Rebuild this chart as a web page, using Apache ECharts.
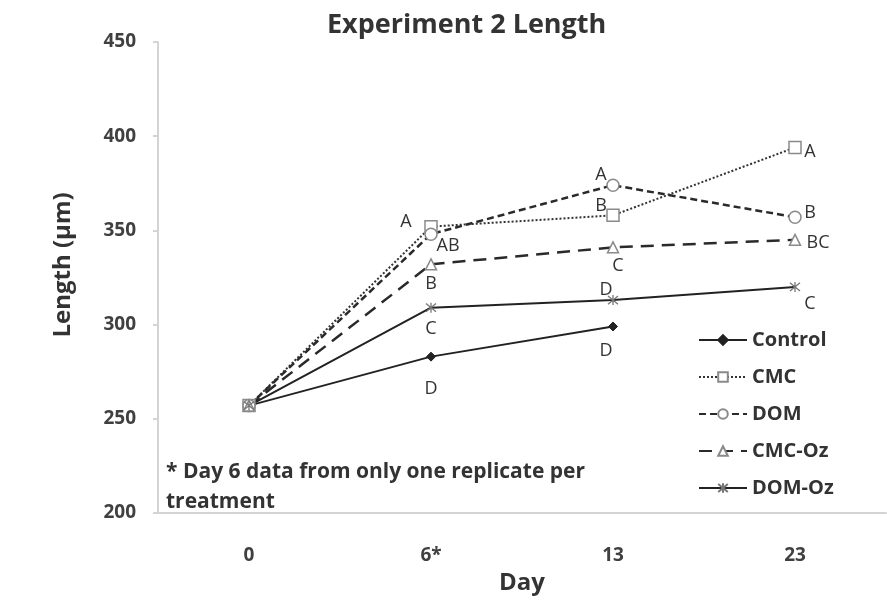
<!DOCTYPE html>
<html>
<head>
<meta charset="utf-8">
<script src="https://cdn.jsdelivr.net/npm/echarts@6/dist/echarts.min.js"></script>
<style>
  html, body { margin: 0; padding: 0; background: #ffffff; }
  #chart { width: 887px; height: 600px; }
</style>
</head>
<body>
<div id="chart"></div>
<script>
// Sampling days (category axis)
var days = ['0', '6*', '13', '23'];
var yTicks = [200, 250, 300, 350, 400, 450];

// Mean length (µm) per treatment
var controlLen = [257, 283, 299, null];
var cmcLen     = [257, 352, 358, 394];
var domLen     = [257, 348, 374, 357];
var cmcOzLen   = [257, 332, 341, 345];
var domOzLen   = [257, 309, 313, 320];

// Significance letters per point
var controlLetters = ['', 'D', 'D', ''];
var cmcLetters     = ['', 'A', 'B', 'A'];
var domLetters     = ['', 'AB', 'A', 'B'];
var cmcOzLetters   = ['', 'B', 'C', 'BC'];
var domOzLetters   = ['', 'C', 'D', 'C'];

var seriesNames = ['Control', 'CMC', 'DOM', 'CMC-Oz', 'DOM-Oz'];
var footNote = ['* Day 6 data from only one replicate per', 'treatment'];
var yTitle = 'Length (\u00b5m)';

var FONT = '"Open Sans", Lato, sans-serif';
var INK = '#333333';
var MARK = '#8a8a8a';

// Attach each letter to its point, nudged by a pixel offset
function letterData(values, letters, offsets) {
  return values.map(function (v, i) {
    var item = { value: v };
    if (letters[i]) {
      item.label = {
        show: true,
        position: 'inside',
        formatter: letters[i],
        offset: offsets[i]
      };
    }
    return item;
  });
}

var labelStyle = { fontFamily: FONT, fontSize: 18, color: INK, fontWeight: 'normal' };
var asterisk = 'path://M0,0 L10,10 M10,0 L0,10 M5,-1 L5,11';

function lineSeries(name, values, letters, offsets, line, symbol) {
  return {
    name: name,
    type: 'line',
    data: letterData(values, letters, offsets),
    connectNulls: false,
    lineStyle: line,
    itemStyle: symbol.item,
    symbol: symbol.shape,
    symbolSize: symbol.size,
    showAllSymbol: true,
    label: Object.assign({ show: false }, labelStyle),
    emphasis: { disabled: true },
    animation: false
  };
}

var chart = echarts.init(document.getElementById('chart'), null, { renderer: 'canvas' });

chart.setOption({
  backgroundColor: '#ffffff',
  title: {
    text: 'Experiment 2 Length',
    left: 322,
    top: 7,
    textStyle: { fontFamily: FONT, fontSize: 27, fontWeight: 'bold', color: INK }
  },
  grid: { left: 158, right: 1, top: 42, bottom: 87, containLabel: false },
  legend: {
    orient: 'vertical',
    left: 693,
    top: 325,
    itemWidth: 48,
    itemHeight: 12,
    itemGap: 17,
    textStyle: { fontFamily: FONT, fontSize: 20, fontWeight: 'bold', color: INK },
    data: seriesNames
  },
  xAxis: {
    type: 'category',
    data: days,
    boundaryGap: true,
    name: 'Day',
    nameLocation: 'middle',
    nameGap: 58,
    nameTextStyle: { fontFamily: FONT, fontSize: 24, fontWeight: 'bold', color: INK },
    axisLine: { show: true, lineStyle: { color: '#d4d4d4', width: 2 } },
    axisTick: { show: false },
    axisLabel: { margin: 33, fontFamily: FONT, fontSize: 19, fontWeight: 'bold', color: '#404040' },
    splitLine: { show: false }
  },
  yAxis: {
    type: 'value',
    min: yTicks[0],
    max: yTicks[yTicks.length - 1],
    interval: yTicks[1] - yTicks[0],
    axisLine: { show: true, lineStyle: { color: '#d4d4d4', width: 2 } },
    axisTick: { show: true, length: 5, inside: false, lineStyle: { color: '#d4d4d4', width: 2 } },
    axisLabel: { margin: 22, fontFamily: FONT, fontSize: 19, fontWeight: 'bold', color: '#404040' },
    splitLine: { show: false }
  },
  graphic: [
    {
      // vertical axis title
      type: 'text',
      x: 63,
      y: 265,
      rotation: Math.PI / 2,
      style: {
        text: yTitle,
        font: 'bold 24px ' + FONT,
        fill: INK,
        textAlign: 'center',
        textVerticalAlign: 'middle'
      }
    },
    {
      type: 'text',
      left: 166,
      top: 457,
      style: {
        text: footNote.join('\n'),
        font: 'bold 21px ' + FONT,
        fill: INK,
        lineHeight: 30
      }
    }
  ],
  series: [
    lineSeries('Control', controlLen, controlLetters,
      [[0, 0], [0, 32], [-7, 24], [0, 0]],
      { color: '#222222', width: 2, type: 'solid' },
      { shape: 'diamond', size: 9, item: { color: '#222222', borderColor: '#222222', borderWidth: 1 } }),
    lineSeries('CMC', cmcLen, cmcLetters,
      [[0, 0], [-25, -5], [-12, -9], [15, 4]],
      { color: '#333333', width: 2, type: [2, 2] },
      { shape: 'rect', size: 12, item: { color: '#ffffff', borderColor: MARK, borderWidth: 1.5 } }),
    lineSeries('DOM', domLen, domLetters,
      [[0, 0], [17, 12], [-12, -10], [15, -4]],
      { color: '#2a2a2a', width: 2.5, type: [7, 4] },
      { shape: 'circle', size: 12, item: { color: '#ffffff', borderColor: MARK, borderWidth: 1.5 } }),
    lineSeries('CMC-Oz', cmcOzLen, cmcOzLetters,
      [[0, 0], [0, 20], [5, 19], [23, 3]],
      { color: '#2a2a2a', width: 2.5, type: [13, 8] },
      { shape: 'triangle', size: 11, item: { color: '#ffffff', borderColor: MARK, borderWidth: 1.5 } }),
    lineSeries('DOM-Oz', domOzLen, domOzLetters,
      [[0, 0], [0, 21], [-7, -10], [15, 17]],
      { color: '#222222', width: 2, type: 'solid' },
      { shape: asterisk, size: 10, item: { color: 'none', borderColor: '#777777', borderWidth: 1.3 } })
  ]
});
</script>
</body>
</html>
